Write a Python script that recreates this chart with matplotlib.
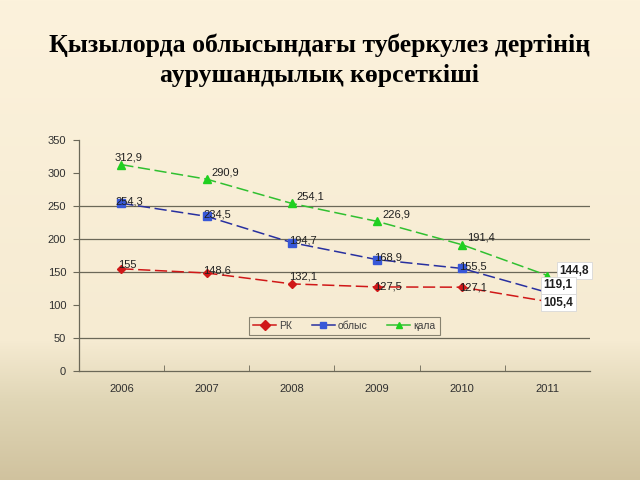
import numpy as np
import matplotlib
matplotlib.use("Agg")
import matplotlib.pyplot as plt

# data
years = ['2006', '2007', '2008', '2009', '2010', '2011']
rk = [155, 148.6, 132.1, 127.5, 127.1, 105.4]
oblys = [254.3, 234.5, 194.7, 168.9, 155.5, 119.1]
qala = [312.9, 290.9, 254.1, 226.9, 191.4, 144.8]
series_names = ['РК', 'облыс', 'қала']
title = 'Қызылорда облысындағы туберкулез дертінің\nаурушандылық көрсеткіші'

def fmt(v):
    s = ('%.1f' % v).rstrip('0').rstrip('.')
    return s.replace('.', ',')

fig = plt.figure(figsize=(6.4, 4.8), dpi=100)

# beige gradient background
bg = fig.add_axes([0, 0, 1, 1], zorder=-10)
stops_y = [0, 340, 400, 480]
stops_c = np.array([[252, 242, 220], [246, 235, 210], [224, 214, 182], [208, 194, 158]]) / 255.
rows = np.arange(480)
grad = np.stack([np.interp(rows, stops_y, stops_c[:, k]) for k in range(3)], axis=1)
bg.imshow(grad[:, None, :], aspect='auto', extent=[0, 1, 0, 1])
bg.axis('off')

fig.text(0.5, 0.875, title, ha='center', va='center', fontsize=18.5, fontweight='bold',
         family='Liberation Serif', linespacing=1.4)

ax = fig.add_axes([0.123, 0.227, 0.799, 0.481])
ax.set_facecolor('none')
x = np.arange(len(years))

axcol = '#6b6858'
for g in [50, 150, 200, 250]:
    ax.axhline(g, color=axcol, lw=0.9, zorder=0)

ax.plot(x, rk, color='#d01818', ls=(0, (8, 3)), lw=1.1, marker='D', ms=4.5,
        mfc='#d01818', mec='#d01818', label=series_names[0])
ax.plot(x, oblys, color='#2830a0', ls=(0, (8, 3)), lw=1.1, marker='s', ms=5.5,
        mfc='#3858d8', mec='#3858d8', label=series_names[1])
ax.plot(x, qala, color='#30c030', ls=(0, (8, 3)), lw=1.1, marker='^', ms=6,
        mfc='#20d020', mec='#20d020', label=series_names[2])

lab = dict(fontsize=8, family='Liberation Sans', color='#202020',
           textcoords='offset pixels')
for i in range(5):
    ax.annotate(fmt(qala[i]), (x[i], qala[i]), xytext=(-7 if i == 0 else 5, 2),
                ha='left', va='bottom', **lab)
    ax.annotate(fmt(oblys[i]), (x[i], oblys[i]), xytext=(-6 if i == 0 else -3, 2),
                ha='left', va='center', **lab)
    ax.annotate(fmt(rk[i]), (x[i], rk[i]), xytext=(-3, [4, 3, 7, 0, 0][i]),
                ha='left', va='center', **lab)

box = dict(boxstyle='square,pad=0.25', fc='white', ec='#d8d8d8', lw=0.6)
last = dict(fontsize=8.5, fontweight='bold', family='Liberation Sans', color='#202020',
            textcoords='offset pixels', ha='left', va='center', bbox=box)
ax.annotate(fmt(qala[5]), (x[5], qala[5]), xytext=(12, 5), **last)
ax.annotate(fmt(oblys[5]), (x[5], oblys[5]), xytext=(-4, 7), **last)
ax.annotate(fmt(rk[5]), (x[5], rk[5]), xytext=(-4, -1), **last)

ax.set_xlim(-0.5, 5.5)
ax.set_ylim(0, 350)
ax.set_yticks(range(0, 351, 50))
ax.set_xticks(x)
ax.set_xticklabels(years)
ax.set_xticks(np.arange(0.5, 5, 1), minor=True)
ax.tick_params(axis='x', which='major', length=0, pad=9)
ax.tick_params(axis='x', which='minor', length=4, direction='in', color=axcol)
ax.tick_params(axis='y', length=4, color=axcol, pad=5)
for t in ax.get_xticklabels() + ax.get_yticklabels():
    t.set_fontsize(8)
    t.set_family('Liberation Sans')
    t.set_color('#303030')
for s in ['top', 'right']:
    ax.spines[s].set_visible(False)
for s in ['left', 'bottom']:
    ax.spines[s].set_color(axcol)
    ax.spines[s].set_linewidth(0.9)

leg = ax.legend(loc='lower left', bbox_to_anchor=(0.333, 0.156, 0.373, 0.13), mode='expand',
                ncol=3, frameon=True, fancybox=False, handlelength=2.2,
                handletextpad=0.3, borderaxespad=0, columnspacing=1.2,
                prop={'family': 'Liberation Sans', 'size': 7.5})
leg.get_frame().set_facecolor('none')
leg.get_frame().set_edgecolor(axcol)
leg.get_frame().set_linewidth(0.8)
for t in leg.get_texts():
    t.set_color('#404040')
for h in leg.legend_handles:
    h.set_linestyle('-')
    h.set_markersize(5)

fig.savefig('out.png', dpi=100)
